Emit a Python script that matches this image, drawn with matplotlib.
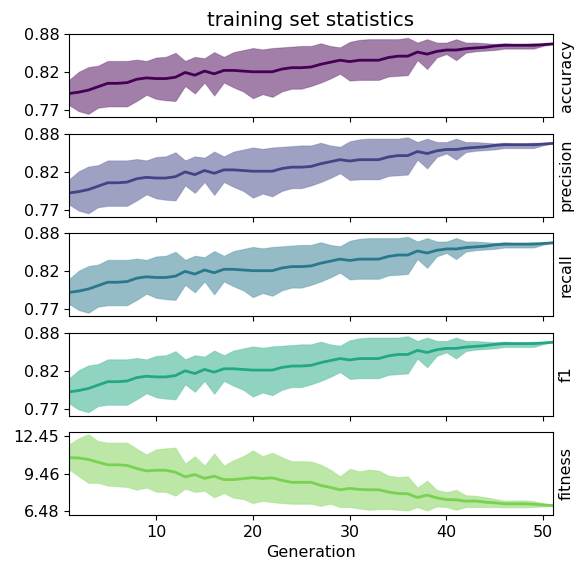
import numpy as np
import matplotlib
matplotlib.use("Agg")
import matplotlib.pyplot as plt
from matplotlib.colors import to_rgba

generations = list(range(1, 52))

metric_mean = [0.790, 0.792, 0.795, 0.800, 0.805, 0.805, 0.806, 0.811, 0.813, 0.812,
               0.812, 0.814, 0.821, 0.817, 0.823, 0.819, 0.824, 0.824, 0.823, 0.822,
               0.822, 0.822, 0.826, 0.828, 0.828, 0.829, 0.833, 0.836, 0.839, 0.837,
               0.839, 0.839, 0.839, 0.843, 0.845, 0.845, 0.851, 0.848, 0.852, 0.854,
               0.854, 0.856, 0.857, 0.858, 0.860, 0.861, 0.861, 0.861, 0.861, 0.862, 0.863]
metric_max = [0.810, 0.822, 0.829, 0.831, 0.838, 0.838, 0.838, 0.840, 0.838, 0.843,
              0.844, 0.850, 0.838, 0.844, 0.842, 0.851, 0.844, 0.851, 0.854, 0.857,
              0.855, 0.857, 0.858, 0.859, 0.860, 0.860, 0.864, 0.860, 0.858, 0.866,
              0.869, 0.870, 0.870, 0.870, 0.870, 0.872, 0.865, 0.870, 0.865, 0.865,
              0.870, 0.865, 0.865, 0.864, 0.863, 0.864, 0.863, 0.863, 0.864, 0.863, 0.863]
metric_min = [0.773, 0.764, 0.760, 0.769, 0.771, 0.771, 0.771, 0.779, 0.788, 0.782,
              0.780, 0.779, 0.801, 0.790, 0.806, 0.787, 0.806, 0.799, 0.793, 0.783,
              0.789, 0.785, 0.793, 0.797, 0.797, 0.801, 0.806, 0.812, 0.819, 0.809,
              0.810, 0.810, 0.810, 0.815, 0.816, 0.817, 0.839, 0.826, 0.843, 0.848,
              0.839, 0.850, 0.852, 0.853, 0.854, 0.856, 0.856, 0.856, 0.856, 0.860, 0.863]

fitness_mean = [10.74, 10.72, 10.60, 10.38, 10.17, 10.17, 10.12, 9.87, 9.68, 9.73,
                9.73, 9.57, 9.20, 9.38, 9.08, 9.25, 8.98, 8.98, 9.06, 9.14,
                9.06, 9.12, 8.92, 8.76, 8.76, 8.76, 8.51, 8.35, 8.16, 8.27,
                8.19, 8.16, 8.16, 7.98, 7.86, 7.84, 7.54, 7.73, 7.51, 7.37,
                7.35, 7.24, 7.26, 7.16, 7.11, 7.03, 7.03, 7.03, 7.00, 6.94, 6.89]
fitness_max = [11.82, 12.31, 12.64, 12.09, 11.96, 11.96, 11.96, 11.47, 11.01, 11.42,
               11.50, 11.56, 10.28, 10.87, 10.12, 11.09, 10.12, 10.55, 10.87, 11.34,
               10.87, 11.15, 10.79, 10.47, 10.47, 10.44, 10.20, 9.79, 9.25, 9.85,
               9.65, 9.79, 9.71, 9.30, 9.20, 9.25, 8.35, 8.90, 8.16, 7.98,
               8.16, 7.73, 7.68, 7.57, 7.43, 7.29, 7.31, 7.31, 7.26, 7.08, 6.89]
fitness_min = [9.79, 9.25, 8.71, 8.71, 8.49, 8.44, 8.38, 8.16, 8.33, 8.00,
               7.98, 7.68, 8.24, 7.98, 8.08, 7.54, 7.89, 7.51, 7.41, 7.08,
               7.27, 7.16, 7.08, 7.03, 7.03, 7.03, 6.86, 7.03, 6.76, 6.76,
               6.65, 6.54, 6.60, 6.60, 6.54, 6.48, 6.76, 6.48, 6.81, 6.76,
               6.54, 6.76, 6.76, 6.76, 6.76, 6.74, 6.74, 6.74, 6.76, 6.81, 6.86]

panel_names = ["accuracy", "precision", "recall", "f1", "fitness"]
metric_ticks = [0.7655, 0.8213, 0.8771]
metric_tick_labels = ["0.77", "0.82", "0.88"]
fitness_ticks = [6.48, 9.465, 12.45]
fitness_tick_labels = ["6.48", "9.46", "12.45"]

plt.rcParams["font.size"] = 11.5
fig = plt.figure(figsize=(5.76, 5.70), dpi=100)
gs = fig.add_gridspec(5, 1, left=0.1198, right=0.960, top=0.9398, bottom=0.0965, hspace=0.2)
colors = plt.cm.viridis(np.linspace(0, 0.8, 5))

axes = []
for i, name in enumerate(panel_names):
    ax = fig.add_subplot(gs[i, 0], sharex=axes[0] if axes else None)
    axes.append(ax)
    if name == "fitness":
        mean, lo, hi = fitness_mean, fitness_min, fitness_max
        ticks, labels = fitness_ticks, fitness_tick_labels
        ylim = (6.13, 12.80)
    else:
        mean, lo, hi = metric_mean, metric_min, metric_max
        ticks, labels = metric_ticks, metric_tick_labels
        ylim = (0.7552, 0.8771)
    ax.fill_between(generations, lo, hi, facecolor=to_rgba(colors[i], 0.5),
                    edgecolor=to_rgba(colors[i], 0.25), linewidth=0.8)
    ax.plot(generations, mean, color=colors[i], lw=2)
    ax.set_yticks(ticks)
    ax.set_yticklabels(labels)
    ax.set_ylim(*ylim)
    ax.set_xlim(1, 51)
    ax.yaxis.set_label_position("right")
    ax.set_ylabel(name)
    if i < 4:
        ax.tick_params(labelbottom=False)

axes[0].set_title("training set statistics", fontsize=14.2)
axes[-1].set_xticks([10, 20, 30, 40, 50])
axes[-1].set_xlabel("Generation")

fig.savefig("out.png", dpi=100)
